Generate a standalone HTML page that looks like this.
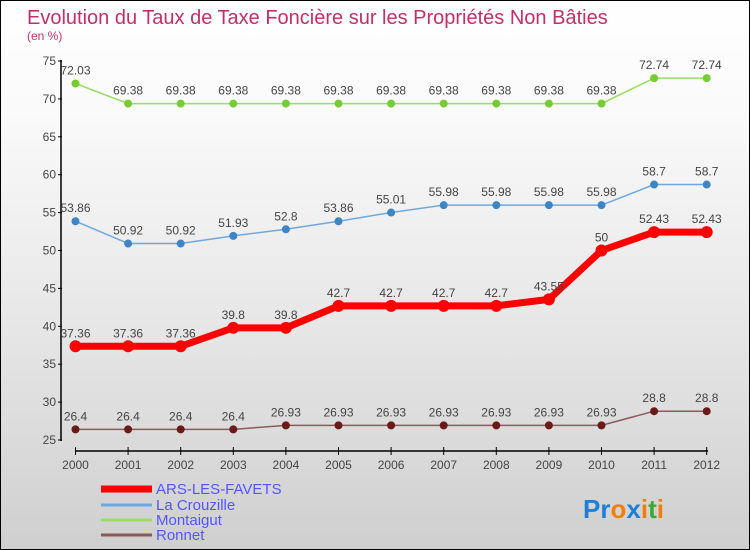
<!DOCTYPE html>
<html><head><meta charset="utf-8"><style>
body{margin:0}
#c{width:748px;height:548px;border:1px solid #000;background:linear-gradient(#fff,#fafafa 20%,#e6e6e6 60%,#cfcfcf);position:relative;overflow:hidden;font-family:"Liberation Sans",sans-serif}
</style></head><body>
<div id="c">
<svg id="s" width="748" height="548" xmlns="http://www.w3.org/2000/svg">
<text x="26" y="23" font-size="20" fill="#c0306a">Evolution du Taux de Taxe Foncière sur les Propriétés Non Bâties</text>
<text x="26" y="39" font-size="12" fill="#c0306a">(en %)</text>
</svg>
</div>
<script>
const years=[2000,2001,2002,2003,2004,2005,2006,2007,2008,2009,2010,2011,2012];
const ars=[37.36,37.36,37.36,39.8,39.8,42.7,42.7,42.7,42.7,43.55,50,52.43,52.43];
const crou=[53.86,50.92,50.92,51.93,52.8,53.86,55.01,55.98,55.98,55.98,55.98,58.7,58.7];
const mont=[72.03,69.38,69.38,69.38,69.38,69.38,69.38,69.38,69.38,69.38,69.38,72.74,72.74];
const ron=[26.4,26.4,26.4,26.4,26.93,26.93,26.93,26.93,26.93,26.93,26.93,28.8,28.8];
const yTicks=[25,30,35,40,45,50,55,60,65,70,75];
const s=document.getElementById('s');const NS='http://www.w3.org/2000/svg';
const X=i=>74.5+i*52.6;const Y=v=>439-(v-25)*7.58;
function el(t,a,p){const e=document.createElementNS(NS,t);for(const k in a)e.setAttribute(k,a[k]);(p||s).appendChild(e);return e;}
let ax=el('line',{x1:60,y1:59,x2:60,y2:440,stroke:'#000','stroke-width':1.5});


yTicks.forEach(v=>{el('line',{x1:57,y1:Y(v),x2:61,y2:Y(v),stroke:'#000'});
let t=el('text',{x:55,y:Y(v)+4,'text-anchor':'end','font-size':12,fill:'#444'});t.textContent=v;

});
let xa=el('line',{x1:74,y1:450,x2:707,y2:450,stroke:'#000','stroke-width':1.5});


years.forEach((y,i)=>{el('line',{x1:X(i),y1:446,x2:X(i),y2:454,stroke:'#000'});
let t=el('text',{x:X(i),y:468,'text-anchor':'middle','font-size':12,fill:'#444'});t.textContent=y;

});
function series(d,col,dot,w,r,name){
let g=el('g',{});


el('polyline',{points:d.map((v,i)=>X(i)+','+Y(v)).join(' '),fill:'none',stroke:col,'stroke-width':w},g);
d.forEach((v,i)=>{let c=el('circle',{cx:X(i),cy:Y(v),r:r,fill:dot},g);


let t=el('text',{x:X(i),y:Y(v)-9,'text-anchor':'middle','font-size':12,fill:'#444'},g);t.textContent=String(v).replace('.','.');

});}
series(mont,'#99dd66','#77cc33',1.5,4,'montaigut-series');
series(crou,'#6fa8dc','#3d85c6',1.5,4,'la-crouzille-series');
series(ron,'#8b5a5a','#6b1a1a',1.5,4,'ronnet-series');
series(ars,'#ff0000','#ff0000',7,6,'ars-les-favets-series');
const leg=[['ARS-LES-FAVETS','#ff0000',7],['La Crouzille','#6fa8dc',3],['Montaigut','#99dd66',3],['Ronnet','#8b5a5a',3]];
const legY=[493,509,524,539];
leg.forEach((l,i)=>{let g=el('g',{});


el('line',{x1:100,y1:legY[i]-5,x2:151,y2:legY[i]-5,stroke:l[1],'stroke-width':l[2]},g);
let t=el('text',{x:155,y:legY[i],'font-size':15,fill:'#5555ff'},g);t.textContent=l[0];});
let p=el('text',{x:582,y:517,'font-size':26,'font-weight':'bold'});


[['Pr','#1f7fd6'],['o','#f07f10'],['x','#1f7fd6'],['i','#f07f10'],['t','#3aaa35'],['i','#f07f10']].forEach(a=>{let ts=el('tspan',{fill:a[1]},p);ts.textContent=a[0];});
</script>
</body></html>
